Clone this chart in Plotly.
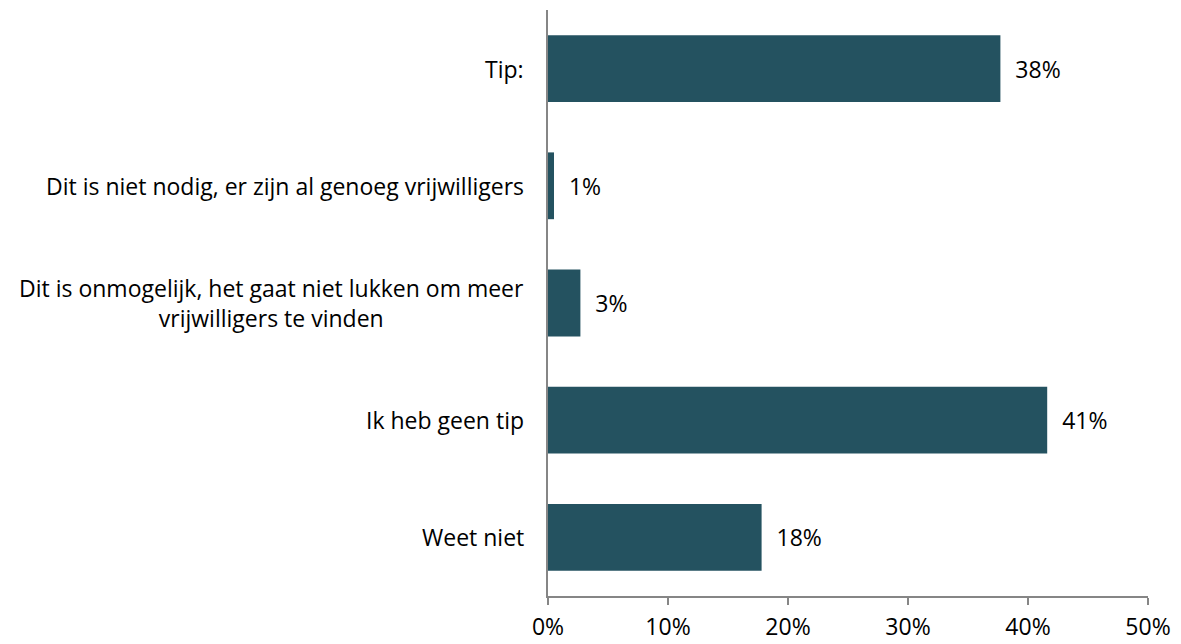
import plotly.graph_objects as go

categories = [
    "Tip:",
    "Dit is niet nodig, er zijn al genoeg vrijwilligers",
    "Dit is onmogelijk, het gaat niet lukken om meer<br>vrijwilligers te vinden",
    "Ik heb geen tip",
    "Weet niet",
]
values = [37.7, 0.5, 2.7, 41.6, 17.8]
labels = ["38%", "1%", "3%", "41%", "18%"]
tick_vals = [0, 10, 20, 30, 40, 50]
tick_text = ["0%", "10%", "20%", "30%", "40%", "50%"]

font_name = "Open Sans"
font_size = 23

fig = go.Figure()

fig.add_trace(
    go.Bar(
        x=values,
        y=categories,
        orientation="h",
        marker=dict(color="#245260", line=dict(width=0)),
        text=["  " + t for t in labels],
        textposition="outside",
        textfont=dict(family=font_name, size=font_size, color="#000000"),
        cliponaxis=False,
        width=0.57,
    )
)

for cat in categories:
    fig.add_annotation(
        x=0,
        y=cat,
        xref="paper",
        yref="y",
        text=cat,
        showarrow=False,
        xanchor="right",
        align="center",
        xshift=-22,
        font=dict(family=font_name, size=font_size, color="#000000"),
    )

# the page body has an 8px margin, so the figure is made 8px smaller
# and the margins are shifted by that
fig.update_layout(
    width=1173,
    height=636,
    margin=dict(l=540, r=33, t=2, b=46),
    plot_bgcolor="white",
    paper_bgcolor="white",
    showlegend=False,
    font=dict(family=font_name, size=font_size, color="#000000"),
)

fig.update_xaxes(
    range=[0, 50],
    tickvals=tick_vals,
    ticktext=tick_text,
    showgrid=False,
    zeroline=False,
    showline=True,
    linecolor="#868686",
    linewidth=2,
    ticks="outside",
    ticklen=7,
    tickcolor="#868686",
    tickwidth=2,
    ticklabelstandoff=2,
    tickfont=dict(family=font_name, size=font_size, color="#000000"),
)

fig.update_yaxes(
    categoryorder="array",
    categoryarray=categories[::-1],
    showticklabels=False,
    showgrid=False,
    zeroline=False,
    showline=True,
    linecolor="#868686",
    linewidth=2,
    ticks="",
)

fig.write_html("out.html")
